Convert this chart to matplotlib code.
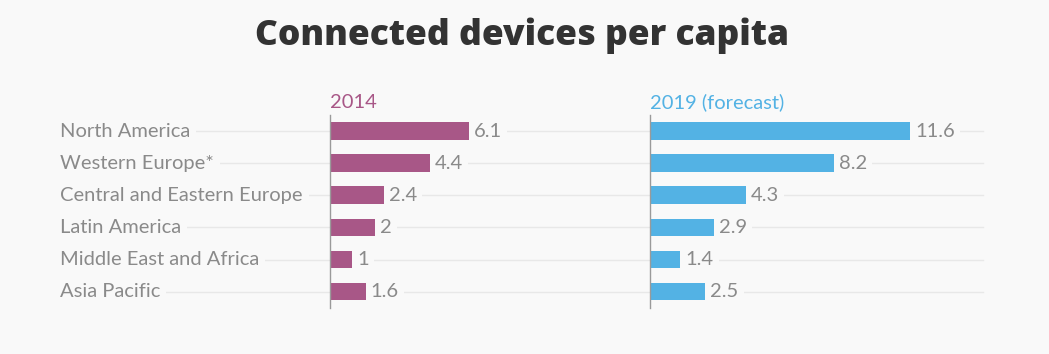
import matplotlib
matplotlib.use("Agg")
import matplotlib.pyplot as plt
from matplotlib.transforms import blended_transform_factory

regions = ["North America", "Western Europe*", "Central and Eastern Europe",
           "Latin America", "Middle East and Africa", "Asia Pacific"]
values_2014 = [6.1, 4.4, 2.4, 2, 1, 1.6]
values_2019 = [11.6, 8.2, 4.3, 2.9, 1.4, 2.5]
labels_2014 = ["6.1", "4.4", "2.4", "2", "1", "1.6"]
labels_2019 = ["11.6", "8.2", "4.3", "2.9", "1.4", "2.5"]
series_titles = ["2014", "2019 (forecast)"]

BG = "#f9f9f9"
PINK = "#a85787"
BLUE = "#53b2e4"
GRAY = "#8a8a8a"
GRID = "#e8e8e8"
FONT = "Lato"
FS = 14.5

W, H = 1049, 354
fig = plt.figure(figsize=(W / 100, H / 100), dpi=100)
fig.patch.set_facecolor(BG)

def fx(px):
    return px / W

bottom = (H - 307.7) / H
height = 192.7 / H

ax1 = fig.add_axes([fx(330), bottom, fx(12 * 23.0), height])
ax2 = fig.add_axes([fx(650), bottom, fx(14 * 22.56), height])

ypos = list(range(len(regions)))

# gridlines spanning across figure
tr = blended_transform_factory(fig.transFigure, ax1.transData)
for y in ypos:
    ax1.plot([fx(60), fx(983)], [y, y], transform=tr, color=GRID, lw=1,
             clip_on=False, zorder=0)

for ax, vals, labs, col, title in [(ax1, values_2014, labels_2014, PINK, series_titles[0]),
                                   (ax2, values_2019, labels_2019, BLUE, series_titles[1])]:
    ax.set_facecolor("none")
    ax.barh(ypos, vals, height=0.55, color=col, zorder=2)
    ax.set_ylim(len(regions) - 0.5, -0.5)
    ax.set_xlim(0, ax.get_position().width * W / (23.0 if ax is ax1 else 22.56))
    for s in ["top", "right", "bottom"]:
        ax.spines[s].set_visible(False)
    ax.spines["left"].set_color("#9a9a9a")
    ax.spines["left"].set_linewidth(1)
    ax.spines["left"].set_zorder(3)
    ax.set_xticks([])
    ax.set_yticks([])
    for y, v, l in zip(ypos, vals, labs):
        ax.text(v + 0.17, y, l, va="center", ha="left", fontsize=FS, color=GRAY,
                family=FONT, zorder=4,
                bbox=dict(boxstyle="square,pad=0.25", facecolor=BG, edgecolor="none"))
    ax.text(0, -0.62, title, ha="left", va="bottom", fontsize=FS, color=col,
            family=FONT, transform=ax.transData)

# region labels
trl = blended_transform_factory(fig.transFigure, ax1.transData)
for y, r in zip(ypos, regions):
    ax1.text(fx(60), y, r, transform=trl, ha="left", va="center", fontsize=FS,
             color=GRAY, family=FONT, zorder=4,
             bbox=dict(boxstyle="square,pad=0.3", facecolor=BG, edgecolor="none"))

fig.text(fx(522), 1 - 36 / H, "Connected devices per capita", ha="center",
         va="center", fontsize=25.5, fontweight=800, color="#333333",
         family="Open Sans")

fig.savefig("out.png", dpi=100, facecolor=BG)
